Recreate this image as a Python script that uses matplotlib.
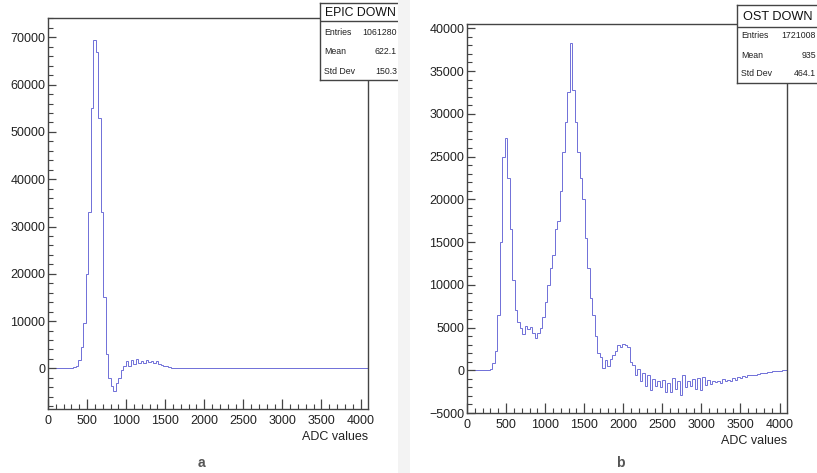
import numpy as np
import matplotlib
matplotlib.use('Agg')
import matplotlib.pyplot as plt
from matplotlib.ticker import MultipleLocator
from matplotlib.patches import Rectangle

plt.rcParams['font.family'] = ['Liberation Sans', 'DejaVu Sans']

# ADC bins: 128 bins of width 32 over 0..4096
bin_edges = np.arange(0, 4096 + 32, 32)

# EPIC DOWN counts per bin
epic_counts = [0] * 10 + [
    200, 600, 1800, 4500, 9500, 20000, 33000, 55000, 69500, 67000,
    53000, 33000, 15000, 3000, -2000, -3800, -4800, -3000, -2000, -300,
    500, 1600, 400, 1800, 900, 2000, 1100, 1500, 1200, 1700,
    1300, 1600, 1200, 1500, 900, 800, 600, 400, 250, 150,
    80, 40] + [0] * 76

# OST DOWN counts per bin
ost_counts = [0] * 9 + [
    100, 800, 2300, 6500, 15000, 25000, 27200, 22500, 16500, 10500,
    7000, 5600, 5000, 4200, 5200, 4800, 5100, 4300, 3800, 4300,
    4900, 6200, 8000, 10000, 12000, 13500, 16500, 17500, 21000, 25500,
    29000, 32500, 38300, 32800, 29000, 25500, 22500, 20000, 15500, 12000,
    8500, 6500, 4000, 2000, 1500, 300, 1200, 500, 1300, 1800,
    2200, 2900, 2700, 3100, 2900, 2700, 1000, 600, -500, 100,
    -1200, -300, -1800, -600, -2300, -1000, -1800, -1300, -2000, -1100,
    -2600, -1500, -2500, -900, -2200, -1200, -2900, -500, -2000, -1200,
    -1800, -1000, -2200, -900, -2300, -800, -1700, -1100, -1600, -1200,
    -1400, -1200, -1500, -1000, -1300, -1100, -1200, -900, -1100, -800,
    -900, -700, -800, -600, -600, -500, -500, -400, -350, -300,
    -300, -200, -150, -100, -80, -50, -30, -20, -10]

epic_stats = [('Entries', '1061280'), ('Mean', '622.1'), ('Std Dev', '150.3')]
ost_stats = [('Entries', '1721008'), ('Mean', '935'), ('Std Dev', '464.1')]

W, H = 817, 473
fig = plt.figure(figsize=(W / 100, H / 100), dpi=100)
fig.patch.set_facecolor('white')

line_col = '#6f6fd8'
frame_col = '#444444'


def px_rect(x0, x1, y0, y1):
    # pixel box (top-left origin) -> figure fraction rect
    return [x0 / W, 1 - y1 / H, (x1 - x0) / W, (y1 - y0) / H]


def style_axes(ax, ymajor, yminor):
    for s in ax.spines.values():
        s.set_color(frame_col)
        s.set_linewidth(1.0)
    ax.xaxis.set_major_locator(MultipleLocator(500))
    ax.xaxis.set_minor_locator(MultipleLocator(100))
    ax.yaxis.set_major_locator(MultipleLocator(ymajor))
    ax.yaxis.set_minor_locator(MultipleLocator(yminor))
    ax.tick_params(axis='both', which='both', direction='in', colors=frame_col,
                   labelcolor='#222222', labelsize=9, top=False, right=False)
    ax.tick_params(axis='x', which='major', length=7.5, width=0.9, pad=4)
    ax.tick_params(axis='x', which='minor', length=3.8, width=0.8)
    ax.tick_params(axis='y', which='major', length=6, width=0.9, pad=2)
    ax.tick_params(axis='y', which='minor', length=3.5, width=0.8)
    ax.text(1.0, -0.072, 'ADC values', transform=ax.transAxes, ha='right',
            va='center', fontsize=9, color='#222222')


def stat_box(x0, x1, y0, ysep, y1, title, stats, rows_y, title_size):
    bx = fig.add_axes(px_rect(x0, x1, y0, y1))
    bx.set_xlim(x0, x1)
    bx.set_ylim(y1, y0)
    bx.set_xticks([])
    bx.set_yticks([])
    for s in bx.spines.values():
        s.set_color(frame_col)
        s.set_linewidth(1.0)
    bx.axhline(ysep, color=frame_col, lw=1.0)
    bx.text((x0 + x1) / 2, (y0 + ysep) / 2 + 0.5, title, ha='center', va='center',
            fontsize=title_size, color='#111111')
    for (name, val), yy in zip(stats, rows_y):
        bx.text(x0 + 4, yy, name, ha='left', va='center', fontsize=6.3, color='#222222')
        bx.text(x1 - 3, yy, val, ha='right', va='center', fontsize=6.3, color='#222222')


# light separator strip between the two panels
fig.patches.append(Rectangle((398 / W, 0), 12 / W, 1, transform=fig.transFigure,
                             facecolor='#f3f3f3', edgecolor='none', zorder=0))

# panel a
ax1 = fig.add_axes(px_rect(48, 368, 18, 409))
ax1.stairs(epic_counts, bin_edges, baseline=None, color=line_col, lw=0.7)
ax1.set_xlim(0, 4096)
ax1.set_ylim(-8600, 74100)
style_axes(ax1, 10000, 2000)

# panel b
ax2 = fig.add_axes(px_rect(467, 787, 24, 413))
ax2.stairs(ost_counts, bin_edges, baseline=None, color=line_col, lw=0.7)
ax2.set_xlim(0, 4096)
ax2.set_ylim(-5000, 40500)
style_axes(ax2, 5000, 1000)

stat_box(320, 400, 3, 21, 80, 'EPIC DOWN', epic_stats, [32, 52, 71], 8.8)
stat_box(737, 819, 5, 27, 83, 'OST DOWN', ost_stats, [36, 55, 73], 9.2)

fig.text(201 / W, 1 - 463 / H, 'a', ha='center', va='center', fontsize=10,
         fontweight='bold', color='#555555')
fig.text(620 / W, 1 - 463 / H, 'b', ha='center', va='center', fontsize=10,
         fontweight='bold', color='#555555')

fig.savefig('out.png', dpi=100)
